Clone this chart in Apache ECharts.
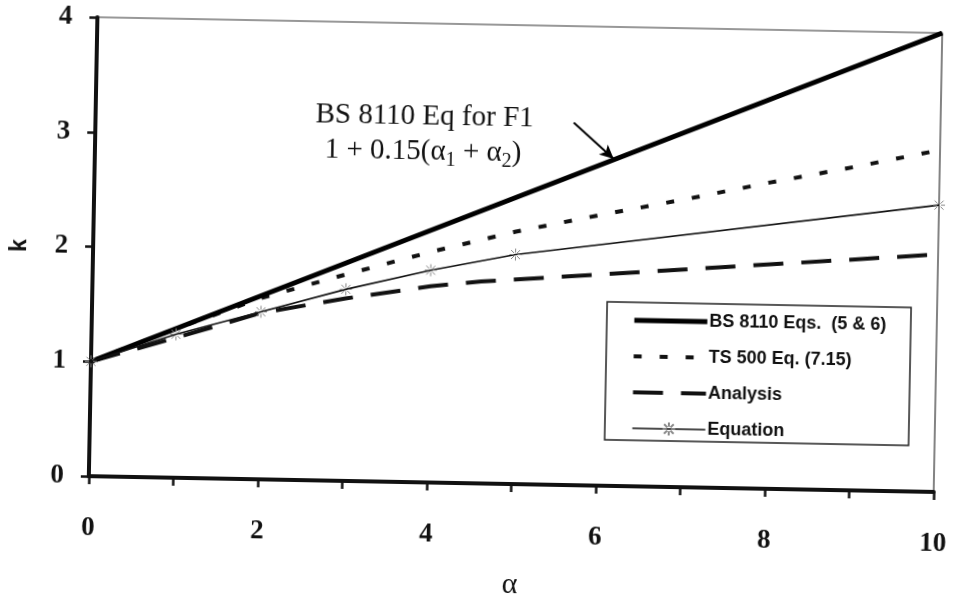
<!DOCTYPE html>
<html><head><meta charset="utf-8">
<script src="https://cdn.jsdelivr.net/npm/echarts@6/dist/echarts.min.js"></script>
<style>
html,body{margin:0;padding:0;background:#fff;overflow:hidden;width:958px;height:605px}
#c{width:958px;height:605px;background:#fff;transform-origin:511px 257px;transform:rotate(1.07deg);}
</style>
</head><body><div id="c"></div>
<script>
// ---- data ----
const seriesNames = ['BS 8110 Eqs.  (5 & 6)', 'TS 500 Eq. (7.15)', 'Analysis', 'Equation'];
const bsAlpha = [0, 10];
const bsK     = [1, 4];
const tsAlpha = [0, 1, 2, 3, 4, 5, 6, 7, 8, 9, 10];
const tsK     = [1, 1.3, 1.58, 1.80, 2.01, 2.20, 2.36, 2.51, 2.67, 2.82, 2.98];
const anAlpha = [0, 1, 2, 3, 4, 4.6, 10];
const anK     = [1, 1.22, 1.45, 1.59, 1.71, 1.76, 2.07];
const eqAlpha = [0, 1, 2, 3, 4, 5, 10];
const eqK     = [1, 1.25, 1.46, 1.67, 1.85, 2.0, 2.5];
const xAxisName = 'α';
const yAxisName = 'k';
const annotLine1 = 'BS 8110 Eq for F1';
const annotLine2 = '{m|1 + 0.15(α}{s|1}{m| + α}{s|2}{m|)}';
const arrowFrom = [5.66, 3.16];
const arrowTo   = [6.14, 2.85];

const zip = (a, b) => a.map((v, i) => [v, b[i]]);
const serif = 'Liberation Serif';
const sans = 'Liberation Sans';
const ink = '#111';

const lineStyles = [
  {color: '#000', width: 5, type: 'solid', cap: 'butt'},
  {color: '#111', width: 4, type: [8, 18], cap: 'butt'},
  {color: '#111', width: 4, type: [30, 18], cap: 'butt'},
  {color: '#111', width: 1.6, type: 'solid', cap: 'butt'}
];
const hiddenDot = {color: 'rgba(0,0,0,0)', borderColor: 'rgba(0,0,0,0)', borderWidth: 0};

const chart = echarts.init(document.getElementById('c'), null, {renderer: 'canvas'});
chart.setOption({
  animation: false,
  backgroundColor: '#fff',
  grid: {left: 84, right: 20, top: 25, bottom: 116, show: true, borderColor: '#333', borderWidth: 1.2, backgroundColor: 'transparent'},
  xAxis: {
    type: 'value', min: 0, max: 10, interval: 1,
    name: xAxisName, nameLocation: 'middle', nameGap: 86,
    nameTextStyle: {fontFamily: serif, fontSize: 30, color: ink},
    axisLine: {lineStyle: {color: ink, width: 4}},
    axisTick: {length: 8, lineStyle: {color: ink, width: 2.5}},
    splitLine: {show: false},
    axisLabel: {margin: 39, fontFamily: serif, fontWeight: 'bold', fontSize: 27, color: ink,
      formatter: v => (v % 2 === 0 ? String(v) : '')}
  },
  yAxis: {
    type: 'value', min: 0, max: 4, interval: 1,
    name: yAxisName, nameLocation: 'middle', nameGap: 62, nameRotate: 90,
    nameTextStyle: {fontFamily: sans, fontWeight: 'bold', fontSize: 23, color: ink},
    axisLine: {show: true, lineStyle: {color: ink, width: 4}},
    axisTick: {show: true, length: 8, lineStyle: {color: ink, width: 2.5}},
    splitLine: {show: false},
    axisLabel: {margin: 25, fontFamily: serif, fontWeight: 'bold', fontSize: 27, color: ink}
  },
  legend: {
    orient: 'vertical', left: 608, top: 300,
    padding: [9, 10, 5, 25],
    itemWidth: 73, itemHeight: 16, itemGap: 18,
    data: [
      {name: seriesNames[0], itemStyle: hiddenDot, lineStyle: lineStyles[0]},
      {name: seriesNames[1], itemStyle: hiddenDot, lineStyle: lineStyles[1]},
      {name: seriesNames[2], itemStyle: hiddenDot, lineStyle: lineStyles[2]},
      {name: seriesNames[3], lineStyle: lineStyles[3]}
    ],
    textStyle: {fontFamily: sans, fontWeight: 'bold', fontSize: 18, lineHeight: 16, color: ink, padding: [0, 0, 0, -3]},
    z: 10
  },
  graphic: [
    {type: 'rect', z: 9, shape: {x: 608, y: 300, width: 304, height: 138},
     style: {fill: '#fff', stroke: '#222', lineWidth: 1.5}},
    {type: 'text', x: 422, y: 118, z: 9,
     style: {text: annotLine1, fontFamily: serif, fontSize: 29, fill: ink, align: 'center', verticalAlign: 'middle'}},
    {type: 'text', x: 421, y: 157, z: 9,
     style: {text: annotLine2, align: 'center', verticalAlign: 'middle', fill: ink,
       rich: {
         m: {fontFamily: serif, fontSize: 29, lineHeight: 30, padding: [0, 0, 4, 0], verticalAlign: 'bottom', fill: ink},
         s: {fontFamily: serif, fontSize: 20, lineHeight: 20, verticalAlign: 'bottom', fill: ink}
       }}}
  ],
  series: [
    {name: seriesNames[0], type: 'line', data: zip(bsAlpha, bsK), symbol: 'none', z: 5,
     itemStyle: {color: '#000'}, lineStyle: lineStyles[0],
     markLine: {silent: true, symbol: ['none', 'arrow'], symbolSize: [10, 14],
       lineStyle: {color: '#000', width: 2, type: 'solid'}, label: {show: false},
       data: [[{coord: arrowFrom}, {coord: arrowTo}]]}},
    {name: seriesNames[1], type: 'line', data: zip(tsAlpha, tsK), symbol: 'none', z: 4,
     itemStyle: {color: '#111'}, lineStyle: lineStyles[1]},
    {name: seriesNames[2], type: 'line', data: zip(anAlpha, anK), symbol: 'none', z: 3,
     itemStyle: {color: '#111'}, lineStyle: lineStyles[2]},
    {name: seriesNames[3], type: 'line', data: zip(eqAlpha, eqK), z: 6,
     symbol: 'path://M0,-6L0,-2M0,2L0,6M-6,0L-2,0M2,0L6,0M-4.5,-4.5L-1.5,-1.5M1.5,1.5L4.5,4.5M-4.5,4.5L-1.5,1.5M1.5,-1.5L4.5,-4.5',
     symbolSize: 12, showSymbol: true,
     itemStyle: {color: 'rgba(0,0,0,0)', borderColor: '#888', borderWidth: 1},
     lineStyle: lineStyles[3]}
  ]
});
</script>
</body></html>
